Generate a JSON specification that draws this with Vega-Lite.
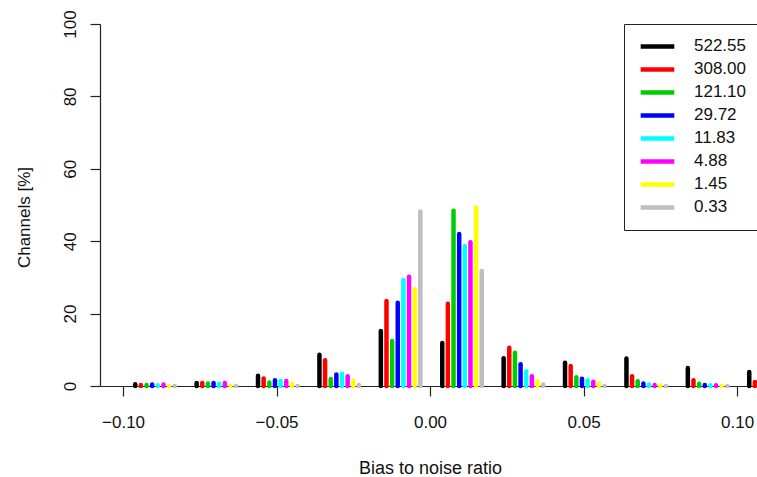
{
  "$schema": "https://vega.github.io/schema/vega-lite/v6.json",
  "width": 657,
  "height": 362,
  "autosize": {"type": "none"},
  "padding": {"left": 100, "top": 24, "right": 0, "bottom": 91},
  "background": "white",
  "config": {
    "view": {"stroke": null},
    "font": "Liberation Sans",
    "axis": {
      "grid": false,
      "domainColor": "#222222",
      "tickColor": "#222222",
      "labelColor": "#111111",
      "titleColor": "#111111",
      "labelFont": "Liberation Sans",
      "titleFont": "Liberation Sans",
      "labelFontSize": 17,
      "titleFontSize": 17,
      "titleFontWeight": "normal",
      "tickSize": 10,
      "domainWidth": 1.2,
      "tickWidth": 1.2
    }
  },
  "data": {
    "values": [
      {"b": -0.09, "s": "522.55", "v": 0.5}, {"b": -0.09, "s": "308.00", "v": 0.3}, {"b": -0.09, "s": "121.10", "v": 0.3}, {"b": -0.09, "s": "29.72", "v": 0.4},
      {"b": -0.09, "s": "11.83", "v": 0.2}, {"b": -0.09, "s": "4.88", "v": 0.4}, {"b": -0.09, "s": "1.45", "v": 0.0}, {"b": -0.09, "s": "0.33", "v": 0.0},
      {"b": -0.07, "s": "522.55", "v": 0.8}, {"b": -0.07, "s": "308.00", "v": 0.8}, {"b": -0.07, "s": "121.10", "v": 0.7}, {"b": -0.07, "s": "29.72", "v": 0.8},
      {"b": -0.07, "s": "11.83", "v": 0.6}, {"b": -0.07, "s": "4.88", "v": 0.8}, {"b": -0.07, "s": "1.45", "v": 0.0}, {"b": -0.07, "s": "0.33", "v": 0.0},
      {"b": -0.05, "s": "522.55", "v": 2.8}, {"b": -0.05, "s": "308.00", "v": 2.1}, {"b": -0.05, "s": "121.10", "v": 1.0}, {"b": -0.05, "s": "29.72", "v": 1.6},
      {"b": -0.05, "s": "11.83", "v": 1.4}, {"b": -0.05, "s": "4.88", "v": 1.4}, {"b": -0.05, "s": "1.45", "v": 0.6}, {"b": -0.05, "s": "0.33", "v": 0.0},
      {"b": -0.03, "s": "522.55", "v": 8.6}, {"b": -0.03, "s": "308.00", "v": 7.1}, {"b": -0.03, "s": "121.10", "v": 1.9}, {"b": -0.03, "s": "29.72", "v": 3.2},
      {"b": -0.03, "s": "11.83", "v": 3.4}, {"b": -0.03, "s": "4.88", "v": 2.7}, {"b": -0.03, "s": "1.45", "v": 1.4}, {"b": -0.03, "s": "0.33", "v": 0.3},
      {"b": -0.01, "s": "522.55", "v": 15.2}, {"b": -0.01, "s": "308.00", "v": 23.5}, {"b": -0.01, "s": "121.10", "v": 12.4}, {"b": -0.01, "s": "29.72", "v": 23.0},
      {"b": -0.01, "s": "11.83", "v": 29.3}, {"b": -0.01, "s": "4.88", "v": 30.2}, {"b": -0.01, "s": "1.45", "v": 26.7}, {"b": -0.01, "s": "0.33", "v": 48.2},
      {"b": 0.01, "s": "522.55", "v": 11.9}, {"b": 0.01, "s": "308.00", "v": 22.7}, {"b": 0.01, "s": "121.10", "v": 48.4}, {"b": 0.01, "s": "29.72", "v": 42.0},
      {"b": 0.01, "s": "11.83", "v": 38.7}, {"b": 0.01, "s": "4.88", "v": 39.7}, {"b": 0.01, "s": "1.45", "v": 49.3}, {"b": 0.01, "s": "0.33", "v": 31.8},
      {"b": 0.03, "s": "522.55", "v": 7.7}, {"b": 0.03, "s": "308.00", "v": 10.6}, {"b": 0.03, "s": "121.10", "v": 9.2}, {"b": 0.03, "s": "29.72", "v": 6.0},
      {"b": 0.03, "s": "11.83", "v": 4.1}, {"b": 0.03, "s": "4.88", "v": 2.7}, {"b": 0.03, "s": "1.45", "v": 1.3}, {"b": 0.03, "s": "0.33", "v": 0.4},
      {"b": 0.05, "s": "522.55", "v": 6.4}, {"b": 0.05, "s": "308.00", "v": 5.5}, {"b": 0.05, "s": "121.10", "v": 2.4}, {"b": 0.05, "s": "29.72", "v": 2.0},
      {"b": 0.05, "s": "11.83", "v": 1.6}, {"b": 0.05, "s": "4.88", "v": 1.2}, {"b": 0.05, "s": "1.45", "v": 0.7}, {"b": 0.05, "s": "0.33", "v": 0.0},
      {"b": 0.07, "s": "522.55", "v": 7.6}, {"b": 0.07, "s": "308.00", "v": 2.7}, {"b": 0.07, "s": "121.10", "v": 1.3}, {"b": 0.07, "s": "29.72", "v": 0.7},
      {"b": 0.07, "s": "11.83", "v": 0.4}, {"b": 0.07, "s": "4.88", "v": 0.3}, {"b": 0.07, "s": "1.45", "v": 0.2}, {"b": 0.07, "s": "0.33", "v": 0.0},
      {"b": 0.09, "s": "522.55", "v": 5.0}, {"b": 0.09, "s": "308.00", "v": 1.6}, {"b": 0.09, "s": "121.10", "v": 0.6}, {"b": 0.09, "s": "29.72", "v": 0.3},
      {"b": 0.09, "s": "11.83", "v": 0.2}, {"b": 0.09, "s": "4.88", "v": 0.2}, {"b": 0.09, "s": "1.45", "v": 0.1}, {"b": 0.09, "s": "0.33", "v": 0.0},
      {"b": 0.11, "s": "522.55", "v": 3.9}, {"b": 0.11, "s": "308.00", "v": 1.1}, {"b": 0.11, "s": "121.10", "v": 0.5}, {"b": 0.11, "s": "29.72", "v": 0.3},
      {"b": 0.11, "s": "11.83", "v": 0.1}, {"b": 0.11, "s": "4.88", "v": 0.1}, {"b": 0.11, "s": "1.45", "v": 0.0}, {"b": 0.11, "s": "0.33", "v": 0.0}
    ]
  },
  "encoding": {
    "x": {
      "field": "b",
      "type": "quantitative",
      "scale": {"domain": [-0.1075, 0.1065], "nice": false, "zero": false},
      "axis": {
        "values": [-0.1, -0.05, 0, 0.05, 0.1],
        "format": ".2f",
        "labelExpr": "datum.value < 0 ? '\u2212' + format(-datum.value, '.2f') : format(datum.value, '.2f')",
        "title": "Bias to noise ratio",
        "labelBaseline": "alphabetic",
        "labelPadding": 31,
        "labelFlush": false,
        "titleFontSize": 18,
        "titleBaseline": "alphabetic",
        "titleY": 87,
        "titleX": 330
      }
    },
    "y": {
      "field": "v",
      "type": "quantitative",
      "scale": {"domain": [0, 100], "nice": false},
      "axis": {
        "values": [0, 20, 40, 60, 80, 100],
        "title": "Channels [%]",
        "labelAngle": -90,
        "labelAlign": "center",
        "labelBaseline": "alphabetic",
        "labelPadding": 15,
        "labelFlush": false,
        "titleAngle": -90,
        "titleBaseline": "alphabetic",
        "titleX": -71,
        "titleY": 193
      }
    },
    "y2": {"datum": 0},
    "color": {
      "field": "s",
      "type": "nominal",
      "scale": {
        "domain": ["522.55", "308.00", "121.10", "29.72", "11.83", "4.88", "1.45", "0.33"],
        "range": ["#000000", "#FF0000", "#00CD00", "#0000FF", "#00FFFF", "#FF00FF", "#FFFF00", "#BEBEBE"]
      },
      "legend": {
        "title": null,
        "orient": "none",
        "legendX": 524,
        "legendY": 0,
        "strokeColor": "#222222",
        "fillColor": "white",
        "padding": 11,
        "symbolOffset": 3,
        "symbolType": "stroke",
        "symbolStrokeWidth": 4.5,
        "symbolSize": 1130,
        "clipHeight": 22.9,
        "labelFontSize": 17,
        "labelFont": "Liberation Sans",
        "labelColor": "#111111",
        "labelOffset": 17,
        "rowPadding": 0
      }
    }
  },
  "layer": [
    {"transform": [{"filter": {"field": "s", "equal": "522.55"}}], "mark": {"type": "rule", "strokeWidth": 4.5, "strokeCap": "round", "xOffset": -18.5}},
    {"transform": [{"filter": {"field": "s", "equal": "308.00"}}], "mark": {"type": "rule", "strokeWidth": 4.5, "strokeCap": "round", "xOffset": -12.86}},
    {"transform": [{"filter": {"field": "s", "equal": "121.10"}}], "mark": {"type": "rule", "strokeWidth": 4.5, "strokeCap": "round", "xOffset": -7.21}},
    {"transform": [{"filter": {"field": "s", "equal": "29.72"}}], "mark": {"type": "rule", "strokeWidth": 4.5, "strokeCap": "round", "xOffset": -1.57}},
    {"transform": [{"filter": {"field": "s", "equal": "11.83"}}], "mark": {"type": "rule", "strokeWidth": 4.5, "strokeCap": "round", "xOffset": 4.07}},
    {"transform": [{"filter": {"field": "s", "equal": "4.88"}}], "mark": {"type": "rule", "strokeWidth": 4.5, "strokeCap": "round", "xOffset": 9.71}},
    {"transform": [{"filter": {"field": "s", "equal": "1.45"}}], "mark": {"type": "rule", "strokeWidth": 4.5, "strokeCap": "round", "xOffset": 15.36}},
    {"transform": [{"filter": {"field": "s", "equal": "0.33"}}], "mark": {"type": "rule", "strokeWidth": 4.5, "strokeCap": "round", "xOffset": 21.0}}
  ]
}
